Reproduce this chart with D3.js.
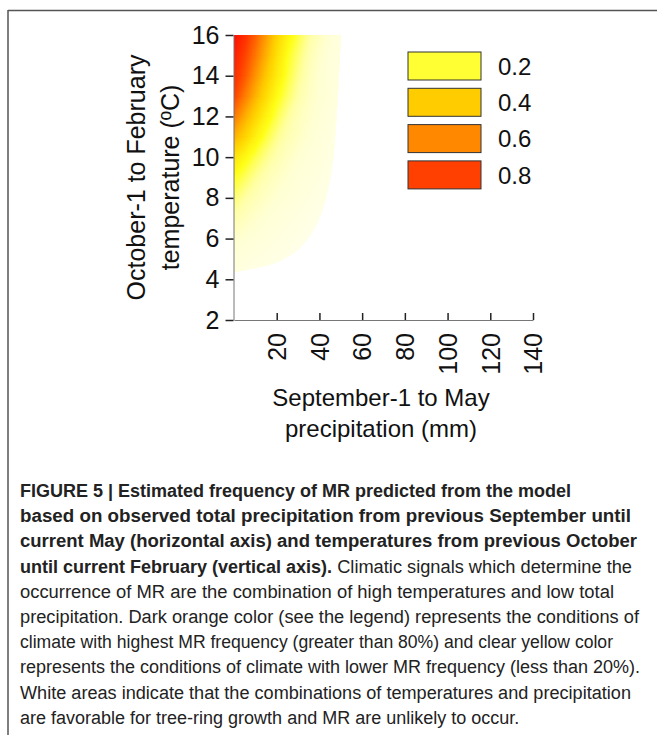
<!DOCTYPE html>
<html>
<head>
<meta charset="utf-8">
<script src="https://cdn.jsdelivr.net/npm/d3@7"></script>
<style>
  html, body { margin: 0; padding: 0; background: #fff; }
  svg text { font-family: "Liberation Sans", Arial, sans-serif; }
</style>
</head>
<body>
<div id="chart-container"></div>
<script>
// data
const precip = [0, 5, 10, 15, 20, 25, 30, 35, 40, 45, 50, 55];
const temp = [4, 5, 6, 7, 8, 9, 10, 11, 12, 13, 14, 15, 16];
// estimated MR frequency, one row per temperature (4 -> 16), one column per precipitation
const freq = [
  [0.025, 0.022, 0.019, 0.016, 0.013, 0.011, 0.009, 0.007, 0.005, 0.004, 0.003, 0.002],
  [0.040, 0.035, 0.030, 0.026, 0.022, 0.018, 0.015, 0.012, 0.009, 0.007, 0.005, 0.003],
  [0.060, 0.048, 0.042, 0.036, 0.030, 0.025, 0.020, 0.016, 0.012, 0.009, 0.006, 0.004],
  [0.095, 0.076, 0.058, 0.046, 0.040, 0.034, 0.028, 0.022, 0.017, 0.012, 0.008, 0.005],
  [0.140, 0.105, 0.084, 0.066, 0.050, 0.042, 0.036, 0.030, 0.024, 0.018, 0.012, 0.008],
  [0.200, 0.155, 0.115, 0.088, 0.070, 0.052, 0.043, 0.037, 0.030, 0.022, 0.015, 0.010],
  [0.310, 0.225, 0.165, 0.122, 0.092, 0.070, 0.052, 0.042, 0.035, 0.027, 0.020, 0.010],
  [0.480, 0.370, 0.255, 0.175, 0.122, 0.090, 0.070, 0.050, 0.040, 0.030, 0.020, 0.010],
  [0.640, 0.490, 0.360, 0.245, 0.165, 0.112, 0.080, 0.060, 0.045, 0.034, 0.022, 0.015],
  [0.790, 0.630, 0.470, 0.335, 0.215, 0.150, 0.100, 0.070, 0.050, 0.040, 0.025, 0.020],
  [0.860, 0.730, 0.560, 0.405, 0.275, 0.180, 0.120, 0.080, 0.052, 0.040, 0.025, 0.020],
  [0.900, 0.790, 0.640, 0.475, 0.320, 0.200, 0.140, 0.090, 0.060, 0.040, 0.030, 0.020],
  [0.950, 0.850, 0.710, 0.535, 0.370, 0.250, 0.170, 0.110, 0.075, 0.047, 0.030, 0.020]
];
// edge of the coloured area [precipitation, temperature]
const boundary = [[0, 4.35], [10, 4.55], [19, 4.8], [30, 5.45], [39, 6.75], [44, 8.4],
  [46.5, 10], [48, 12], [49.2, 14], [50, 16]];

const xTicks = [20, 40, 60, 80, 100, 120, 140];
const yTicks = [2, 4, 6, 8, 10, 12, 14, 16];
const legendValues = [0.2, 0.4, 0.6, 0.8];
const legendColors = ["#ffff33", "#ffcc00", "#ff8800", "#ff4000"];
const colorStops = [0, 0.05, 0.1, 0.2, 0.4, 0.6, 0.8, 1];
const colorRange = ["#fffff0", "#ffffd2", "#ffffa8", "#ffff1a", "#ffcc00", "#ff8800", "#ff4000", "#ff0000"];

const captionLines = [
  [["FIGURE 5 | Estimated frequency of MR predicted from the model", true]],
  [["based on observed total precipitation from previous September until", true]],
  [["current May (horizontal axis) and temperatures from previous October", true]],
  [["until current February (vertical axis).", true], [" Climatic signals which determine the", false]],
  [["occurrence of MR are the combination of high temperatures and low total", false]],
  [["precipitation. Dark orange color (see the legend) represents the conditions of", false]],
  [["climate with highest MR frequency (greater than 80%) and clear yellow color", false]],
  [["represents the conditions of climate with lower MR frequency (less than 20%).", false]],
  [["White areas indicate that the combinations of temperatures and precipitation", false]],
  [["are favorable for tree-ring growth and MR are unlikely to occur.", false]]
];
// right end of each caption piece, px (null = natural width)
const captionEnds = [[null], [631], [637], [null, 632], [614], [639], [613], [640], [631], [null]];

const W = 657, H = 735;
const svg = d3.select("#chart-container").append("svg")
  .attr("width", W).attr("height", H);

// frame
svg.append("line").attr("x1", 8).attr("x2", W).attr("y1", 10.5).attr("y2", 10.5)
  .attr("stroke", "#555").attr("stroke-width", 1.5);
svg.append("line").attr("x1", 8).attr("x2", 8).attr("y1", 10).attr("y2", H)
  .attr("stroke", "#555").attr("stroke-width", 1.5);

const x = d3.scaleLinear().domain([0, 140]).range([234, 533]);
const y = d3.scaleLinear().domain([2, 16]).range([320, 35]);

// grid index space -> pixels (value i sits at i + 0.5)
const gx = d3.scaleLinear().domain([0.5, precip.length - 0.5]).range([x(precip[0]), x(precip[precip.length - 1])]);
const gy = d3.scaleLinear().domain([0.5, temp.length - 0.5]).range([y(temp[0]), y(temp[temp.length - 1])]);

const color = d3.scaleLinear().domain(colorStops).range(colorRange).clamp(true);

const values = freq.flat();
const thresholds = d3.range(0, 0.98, 0.005);
const contours = d3.contours()
  .size([precip.length, temp.length])
  .thresholds(thresholds)(values);

const proj = d3.geoTransform({
  point: function(px, py) { this.stream.point(gx(px), gy(py)); }
});
const path = d3.geoPath(proj);

// clip: plot area limited by the boundary curve
const curveGen = d3.line().x(d => x(d[0])).y(d => y(d[1])).curve(d3.curveCatmullRom);
const clipD = `M${x(0)},${y(16)}L` + curveGen(boundary).slice(1) + "Z";
svg.append("clipPath").attr("id", "heatClip").append("path").attr("d", clipD);

svg.append("g").attr("clip-path", "url(#heatClip)")
  .selectAll("path")
  .data(contours)
  .join("path")
  .attr("d", path)
  .attr("fill", d => color(d.value))
  .attr("stroke", d => color(d.value))
  .attr("stroke-width", 0.3);

// y axis
const yAxis = svg.append("g")
  .attr("transform", `translate(${x(0) - 0.5},0)`)
  .call(d3.axisLeft(y).tickValues(yTicks).tickSizeOuter(0).tickSizeInner(8).tickPadding(6));
yAxis.select(".domain").attr("stroke", "#777");
yAxis.selectAll(".tick line").attr("stroke", "#222").attr("stroke-width", 1.5);
yAxis.selectAll(".tick text").attr("font-size", 25).attr("fill", "#111")
  .style("font-family", "'Liberation Sans', Arial, sans-serif");

// x axis, ticks pointing up, labels perpendicular
const xAxis = svg.append("g")
  .attr("transform", `translate(0,${y(2)})`)
  .call(d3.axisBottom(x).tickValues(xTicks).tickSizeOuter(0).tickSizeInner(-7));
xAxis.select(".domain").attr("stroke", "#777");
xAxis.selectAll(".tick line").attr("stroke", "#222").attr("stroke-width", 1.5);
xAxis.selectAll(".tick text")
  .attr("font-size", 25).attr("fill", "#111")
  .style("font-family", "'Liberation Sans', Arial, sans-serif")
  .attr("y", 0).attr("dy", "0.35em")
  .attr("text-anchor", "end")
  .attr("transform", "translate(0,13) rotate(-90)");

// axis titles
const yTitle = svg.append("text")
  .attr("transform", `translate(145,${(y(2) + y(16)) / 2}) rotate(-90)`)
  .attr("text-anchor", "middle").attr("font-size", 25).attr("fill", "#111");
yTitle.append("tspan").attr("x", 0).attr("y", 0).text("October-1 to February");
yTitle.append("tspan").attr("x", 0).attr("y", 34).text("temperature (ºC)");

const xTitle = svg.append("text")
  .attr("transform", `translate(381,406)`)
  .attr("text-anchor", "middle").attr("font-size", 24).attr("fill", "#111");
xTitle.append("tspan").attr("x", 0).attr("y", 0).text("September-1 to May");
xTitle.append("tspan").attr("x", 0).attr("y", 31).text("precipitation (mm)");

// legend
const lg = svg.append("g").selectAll("g")
  .data(legendValues)
  .join("g")
  .attr("transform", (d, i) => `translate(408,${52 + i * 36.3})`);
lg.append("rect")
  .attr("width", 73).attr("height", 28)
  .attr("fill", (d, i) => legendColors[i])
  .attr("stroke", "#333").attr("stroke-width", 1);
lg.append("text")
  .attr("x", 90).attr("y", 14).attr("dy", "0.36em")
  .attr("font-size", 24).attr("fill", "#111")
  .text(d => d3.format(".1f")(d));

// caption
const cap = svg.append("g");
captionLines.forEach((line, i) => {
  const t = cap.append("text").attr("y", 497 + i * 25.2).attr("font-size", 18).attr("fill", "#222");
  line.forEach((piece, k) => {
    const end = captionEnds[i][k];
    const ts = t.append("tspan")
      .attr("font-weight", piece[1] ? "bold" : "normal")
      .text(piece[0]);
    if (k === 0) ts.attr("x", 20);
    if (end !== null) {
      const start = k === 0 ? 20 : t.node().getSubStringLength(0, line[0][0].length) + 20;
      ts.attr("textLength", end - start).attr("lengthAdjust", "spacingAndGlyphs");
    }
  });
});
</script>
</body>
</html>
